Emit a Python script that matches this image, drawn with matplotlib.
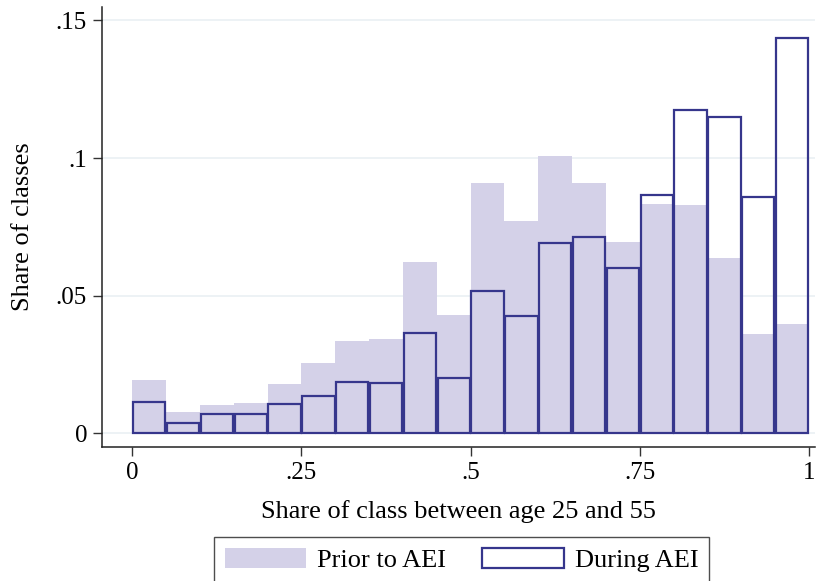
import numpy as np
import matplotlib
matplotlib.use("Agg")
import matplotlib.pyplot as plt

# Histogram shares by bin (bin width .05, left edges 0 ... .95)
bin_left = np.arange(20) * 0.05
prior_share = [0.0194, 0.0077, 0.0103, 0.0110, 0.0179, 0.0255, 0.0335, 0.0343,
               0.0622, 0.0430, 0.0909, 0.0771, 0.1007, 0.0909, 0.0695, 0.0833,
               0.0829, 0.0637, 0.0361, 0.0397]
during_share = [0.0114, 0.0039, 0.0069, 0.0070, 0.0106, 0.0136, 0.0186, 0.0182,
                0.0363, 0.0202, 0.0517, 0.0425, 0.0691, 0.0712, 0.0600, 0.0867,
                0.1173, 0.1151, 0.0860, 0.1437]

x_ticks = [0, 0.25, 0.5, 0.75, 1]
x_ticklabels = ["0", ".25", ".5", ".75", "1"]
y_ticks = [0, 0.05, 0.1, 0.15]
y_ticklabels = ["0", ".05", ".1", ".15"]

plt.rcParams["font.family"] = ["Liberation Serif", "DejaVu Serif"]
fill_col = "#d4d1e8"
line_col = "#36368c"
grid_col = "#eaf0f4"
fs = 19
tick_fs = 18

fig = plt.figure(figsize=(8.16, 5.81), dpi=100)
ax = fig.add_axes([0.1246, 0.2306, 0.8742, 0.7574])

ax.bar(bin_left + 0.025, prior_share, width=0.05, color=fill_col,
       linewidth=0, label="Prior to AEI", zorder=2)
ax.bar(bin_left + 0.025, during_share, width=0.0478, facecolor="none",
       edgecolor=line_col, linewidth=1.6, label="During AEI", zorder=3)

ax.set_xlim(-0.0452, 1.009)
ax.set_ylim(-0.005, 0.1549)
ax.set_xticks(x_ticks)
ax.set_xticklabels(x_ticklabels)
ax.set_yticks(y_ticks)
ax.set_yticklabels(y_ticklabels)
ax.tick_params(axis="both", direction="out", length=6.5, width=1,
               labelsize=tick_fs, color="#333333")
ax.tick_params(axis="x", pad=4)
ax.tick_params(axis="y", pad=4)

for y in y_ticks:
    ax.axhline(y, color=grid_col, linewidth=1.2, zorder=1)

for side in ["top", "right"]:
    ax.spines[side].set_visible(False)
for side in ["left", "bottom"]:
    ax.spines[side].set_linewidth(1.1)
    ax.spines[side].set_color("#222222")

ax.set_xlabel("Share of class between age 25 and 55", fontsize=fs, labelpad=12)
ax.set_ylabel("Share of classes", fontsize=fs, labelpad=16)

leg = fig.legend(loc="upper center", bbox_to_anchor=(0.5656, 0.0757), ncol=2,
                 fontsize=fs, frameon=True, fancybox=False, edgecolor="#222222",
                 handlelength=3.1, handleheight=0.83, columnspacing=1.35,
                 handletextpad=0.42, borderpad=0.4, borderaxespad=0)
leg.get_frame().set_linewidth(1.0)

fig.savefig("out.png", dpi=100)
